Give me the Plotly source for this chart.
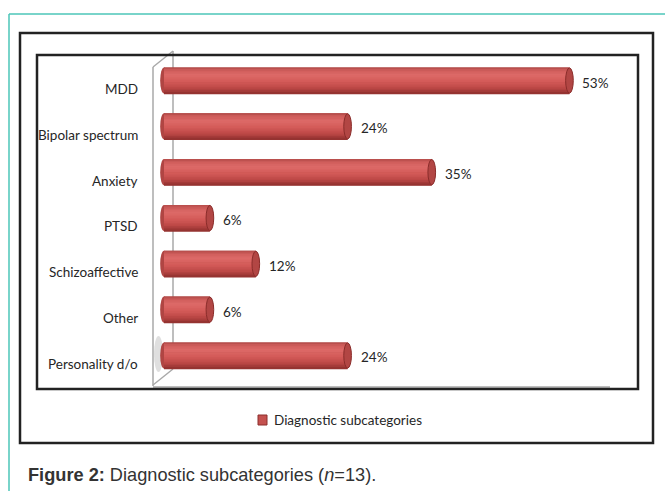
import plotly.graph_objects as go

# ---- data -------------------------------------------------------------
categories = ["MDD", "Bipolar spectrum", "Anxiety", "PTSD",
              "Schizoaffective", "Other", "Personality d/o"]
percentages = [53, 24, 35, 6, 12, 6, 24]
series_name = "Diagnostic subcategories"
caption_bold = "Figure 2:"
caption_text = " Diagnostic subcategories (<i>n</i>=13)."

# ---- page geometry helpers (pixel -> paper) ---------------------------
W, H = 665, 491


def px(x):
    return x / W


def py(y):
    return 1 - y / H


def mix(c1, c2, t):
    a = [int(c1[i:i + 2], 16) for i in (1, 3, 5)]
    b = [int(c2[i:i + 2], 16) for i in (1, 3, 5)]
    return "#" + "".join(f"{round(p + (q - p) * t):02x}" for p, q in zip(a, b))


# cylinder shading key colours, top to bottom
shade_keys = [(0.0, "#b24a48"), (0.12, "#d05e5c"), (0.30, "#dd6a68"),
              (0.55, "#d35a58"), (0.80, "#bb4745"), (1.0, "#8e2f2d")]


def shade(t):
    for (t0, c0), (t1, c1) in zip(shade_keys, shade_keys[1:]):
        if t <= t1:
            return mix(c0, c1, (t - t0) / (t1 - t0))
    return shade_keys[-1][1]


bar_w = 0.57
n_bands = 16
band = bar_w / n_bands
band_colors = [shade((k + 0.5) / n_bands) for k in range(n_bands)]
cap_half = 0.5          # half width of the end caps, in % units

idx = list(range(len(categories)))

fig = go.Figure()

# base body of each cylinder
fig.add_trace(go.Bar(
    x=percentages, y=idx, orientation="h", base=0,
    width=bar_w, name=series_name, showlegend=False,
    marker=dict(color="#9a3735", line=dict(width=0)),
    hoverinfo="skip",
))

# horizontal shading bands to give the bars a cylindrical look
for k, col in enumerate(band_colors):
    fig.add_trace(go.Bar(
        x=percentages, y=idx, orientation="h", base=0,
        width=band * 1.4, offset=-bar_w / 2 + k * band,
        marker=dict(color=col, line=dict(width=0)),
        showlegend=False, hoverinfo="skip",
    ))

shapes = []
annotations = []

label_font = dict(family="Lato", size=13.5, color="#262626")

for i, (cat, v) in enumerate(zip(categories, percentages)):
    # rounded start of each cylinder
    shapes.append(dict(type="circle", xref="x", yref="y", layer="below",
                       x0=-cap_half, x1=cap_half,
                       y0=i - bar_w / 2, y1=i + bar_w / 2,
                       fillcolor="#b04543", line=dict(width=0)))
    # end cap of each cylinder
    shapes.append(dict(type="circle", xref="x", yref="y", layer="above",
                       x0=v - cap_half, x1=v + cap_half,
                       y0=i - bar_w / 2 + 0.01, y1=i + bar_w / 2 - 0.01,
                       fillcolor="#b24644",
                       line=dict(color="#8a2c2a", width=1)))
    # value label
    annotations.append(dict(x=v, y=i, xref="x", yref="y", text=f"{v}%",
                            showarrow=False, xanchor="left", yanchor="middle",
                            xshift=11, yshift=-2, font=label_font))
    # category label
    annotations.append(dict(x=px(139.5), y=i, xref="paper", yref="y",
                            text=cat, showarrow=False, xanchor="right",
                            yanchor="middle", yshift=-8.5, font=label_font))

# soft shadow on the side wall
shapes.append(dict(type="circle", xref="paper", yref="paper", layer="below",
                   x0=px(154), x1=px(163), y0=py(372), y1=py(336),
                   fillcolor="rgba(150,150,150,0.3)", line=dict(width=0)))

wall = "#a8a8a8"
# 3-D side wall of the plot area
for (x0, y0, x1, y1) in [
    (153, 67, 153, 386),   # front edge
    (173, 51, 173, 369),   # back edge
    (153, 67, 173, 51),    # top bevel
    (153, 385, 173, 369),  # bottom bevel
    (153, 387, 610, 387),  # floor
]:
    shapes.append(dict(type="line", xref="paper", yref="paper",
                       x0=px(x0), y0=py(y0), x1=px(x1), y1=py(y1),
                       line=dict(color=wall, width=1.5), layer="below"))

# chart frames
shapes.append(dict(type="rect", xref="paper", yref="paper",
                   x0=px(37), y0=py(389), x1=px(638), y1=py(55),
                   line=dict(color="#222222", width=2.5)))
shapes.append(dict(type="rect", xref="paper", yref="paper",
                   x0=px(20), y0=py(443), x1=px(653), y1=py(33),
                   line=dict(color="#222222", width=2.5)))
# page rule
shapes.append(dict(type="line", xref="paper", yref="paper",
                   x0=px(9), y0=py(14), x1=px(665), y1=py(14),
                   line=dict(color="#4cc6b8", width=1.5)))
shapes.append(dict(type="line", xref="paper", yref="paper",
                   x0=px(9), y0=py(14), x1=px(9), y1=py(491),
                   line=dict(color="#4cc6b8", width=1.5)))

# legend key
shapes.append(dict(type="rect", xref="paper", yref="paper",
                   x0=px(258), y0=py(425), x1=px(267), y1=py(415),
                   fillcolor="#c4514f", line=dict(color="#8c2f2d", width=1)))
annotations.append(dict(x=px(272), y=py(420), xref="paper", yref="paper",
                        text=series_name, showarrow=False, xanchor="left",
                        yanchor="middle", font=label_font))

# caption
annotations.append(dict(x=px(26), y=py(475), xref="paper", yref="paper",
                        text=f"<b>{caption_bold}</b>{caption_text}",
                        showarrow=False, xanchor="left", yanchor="middle",
                        font=dict(family="Liberation Sans", size=18.2,
                                  color="#333333")))

# axis placement in pixels: zero at x=164, 7.65 px per %
x_zero, x_scale = 164, 7.65
x_left, x_right = 150, 638
y_top, y_bot, y_first, y_step = 55, 389, 80.5, 45.83

fig.update_layout(
    width=W, height=H,
    margin=dict(l=0, r=0, t=0, b=0),
    paper_bgcolor="white", plot_bgcolor="rgba(0,0,0,0)",
    barmode="overlay",
    xaxis=dict(domain=[px(x_left), px(x_right)],
               range=[-(x_zero - x_left) / x_scale,
                      (x_right - x_zero) / x_scale],
               visible=False, fixedrange=True),
    yaxis=dict(domain=[py(y_bot), py(y_top)],
               range=[(y_bot - y_first) / y_step,
                      -(y_first - y_top) / y_step],
               visible=False, fixedrange=True),
    showlegend=False,
    shapes=shapes,
    annotations=annotations,
)

fig.write_html("out.html")
